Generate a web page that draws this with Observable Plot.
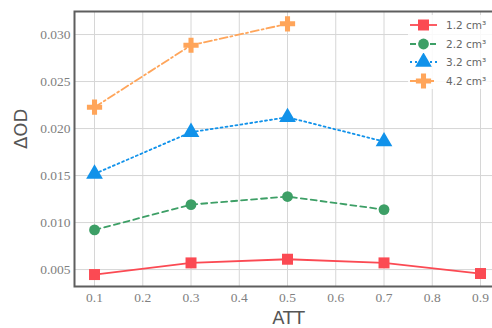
<!DOCTYPE html>
<html>
<head>
<meta charset="utf-8">
<script src="https://cdn.jsdelivr.net/npm/d3@7"></script>
<script src="https://cdn.jsdelivr.net/npm/@observablehq/plot@0.6"></script>
<style>
  html, body { margin: 0; padding: 0; background: #fff; overflow: hidden; }
  #wrap { position: relative; width: 492px; height: 328px; }
  #wrap svg g[aria-label="x-axis tick label"], #wrap svg g[aria-label="y-axis tick label"] { font-family: "Liberation Serif", serif; }
  #legend { position: absolute; left: 408px; top: 15px; width: 90px; height: 74px;
    background: rgba(255,255,255,0.85); font-family: "DejaVu Sans", sans-serif; font-size: 10.5px; color: #666; }
  #legend .row { position: absolute; left: 0; height: 18px; display: flex; align-items: center; }
  #legend svg { display: block; }
  #legend span { margin-left: 8px; }
</style>
</head>
<body>
<div id="wrap"><div id="legend"></div></div>
<script>
const att = [0.1, 0.3, 0.5, 0.7, 0.9];
const seriesNames = ["1.2 cm³", "2.2 cm³", "3.2 cm³", "4.2 cm³"];
const v12 = [0.00447, 0.00571, 0.0061, 0.00571, 0.00458];
const v22 = [0.00922, 0.01191, 0.01277, 0.01138];
const v32 = [0.01518, 0.01961, 0.0212, 0.01862];
const v42 = [0.02227, 0.02886, 0.03114];
const xTicks = [0.1, 0.2, 0.3, 0.4, 0.5, 0.6, 0.7, 0.8, 0.9];
const yTicks = [0.005, 0.010, 0.015, 0.020, 0.025, 0.030];

const colors = ["#fb4a53", "#3d9f66", "#1192ea", "#ffa55a"];
const dashes = [null, "6,4", "2,3", "8,3,2,3"];
const symbols = ["square", "circle", "triangle", "cross"];
const radii = [6.2, 5.4, 6.2, 6.4];
const allValues = [v12, v22, v32, v42];

const rows = [];
allValues.forEach((vals, i) => vals.forEach((v, j) => rows.push({s: seriesNames[i], x: att[j], y: v})));

const marks = [
  Plot.gridX(xTicks, {stroke: "#d6d6d6", strokeOpacity: 1, strokeWidth: 1}),
  Plot.gridY(yTicks, {stroke: "#d6d6d6", strokeOpacity: 1, strokeWidth: 1}),
  Plot.axisX(xTicks, {tickSize: 0, tickPadding: 6, tickFormat: d3.format(".1f"), fontSize: 13.5, fill: "#808080", label: null}),
  Plot.axisY(yTicks, {tickSize: 0, tickPadding: 4, tickFormat: d3.format(".3f"), fontSize: 13.5, fill: "#808080", label: null}),
];
seriesNames.forEach((name, i) => {
  const data = rows.filter(r => r.s === name);
  marks.push(Plot.line(data, {x: "x", y: "y", stroke: colors[i], strokeWidth: 1.8, strokeDasharray: dashes[i]}));
  marks.push(Plot.dot(data, {x: "x", y: "y", fill: colors[i], symbol: symbols[i], r: radii[i], stroke: null}));
});
marks.push(Plot.frame({stroke: "#5e5e5e", strokeWidth: 2}));
marks.push(Plot.text(["ΔOD"], {frameAnchor: "left", dx: -53, rotate: -90, fontSize: 18, fill: "#555", fontFamily: "DejaVu Sans, sans-serif"}));
marks.push(Plot.text(["ATT"], {frameAnchor: "bottom", dx: 4, dy: 37, fontSize: 18, fill: "#555", fontFamily: "DejaVu Sans, sans-serif"}));

const chart = Plot.plot({
  width: 492, height: 328,
  marginLeft: 74, marginRight: -2, marginTop: 11, marginBottom: 42,
  x: {domain: [0.0585, 0.929]},
  y: {domain: [0.0032, 0.03245]},
  style: {background: "transparent", overflow: "hidden"},
  marks
});
document.getElementById("wrap").prepend(chart);

// legend
const legend = document.getElementById("legend");
seriesNames.forEach((name, i) => {
  const row = document.createElement("div");
  row.className = "row";
  row.style.top = (1 + i * 18.6) + "px";
  const svg = d3.create("svg").attr("width", 30).attr("height", 18);
  svg.append("line").attr("x1", 2).attr("x2", 29).attr("y1", 9).attr("y2", 9)
    .attr("stroke", colors[i]).attr("stroke-width", 1.8).attr("stroke-dasharray", dashes[i]);
  const sym = {square: d3.symbolSquare, circle: d3.symbolCircle, triangle: d3.symbolTriangle, cross: d3.symbolCross}[symbols[i]];
  svg.append("path").attr("transform", "translate(15.5,9)")
    .attr("d", d3.symbol(sym, Math.PI * radii[i] * radii[i])()).attr("fill", colors[i]);
  row.appendChild(svg.node());
  const t = document.createElement("span");
  t.textContent = name;
  row.appendChild(t);
  legend.appendChild(row);
});
</script>
</body>
</html>
